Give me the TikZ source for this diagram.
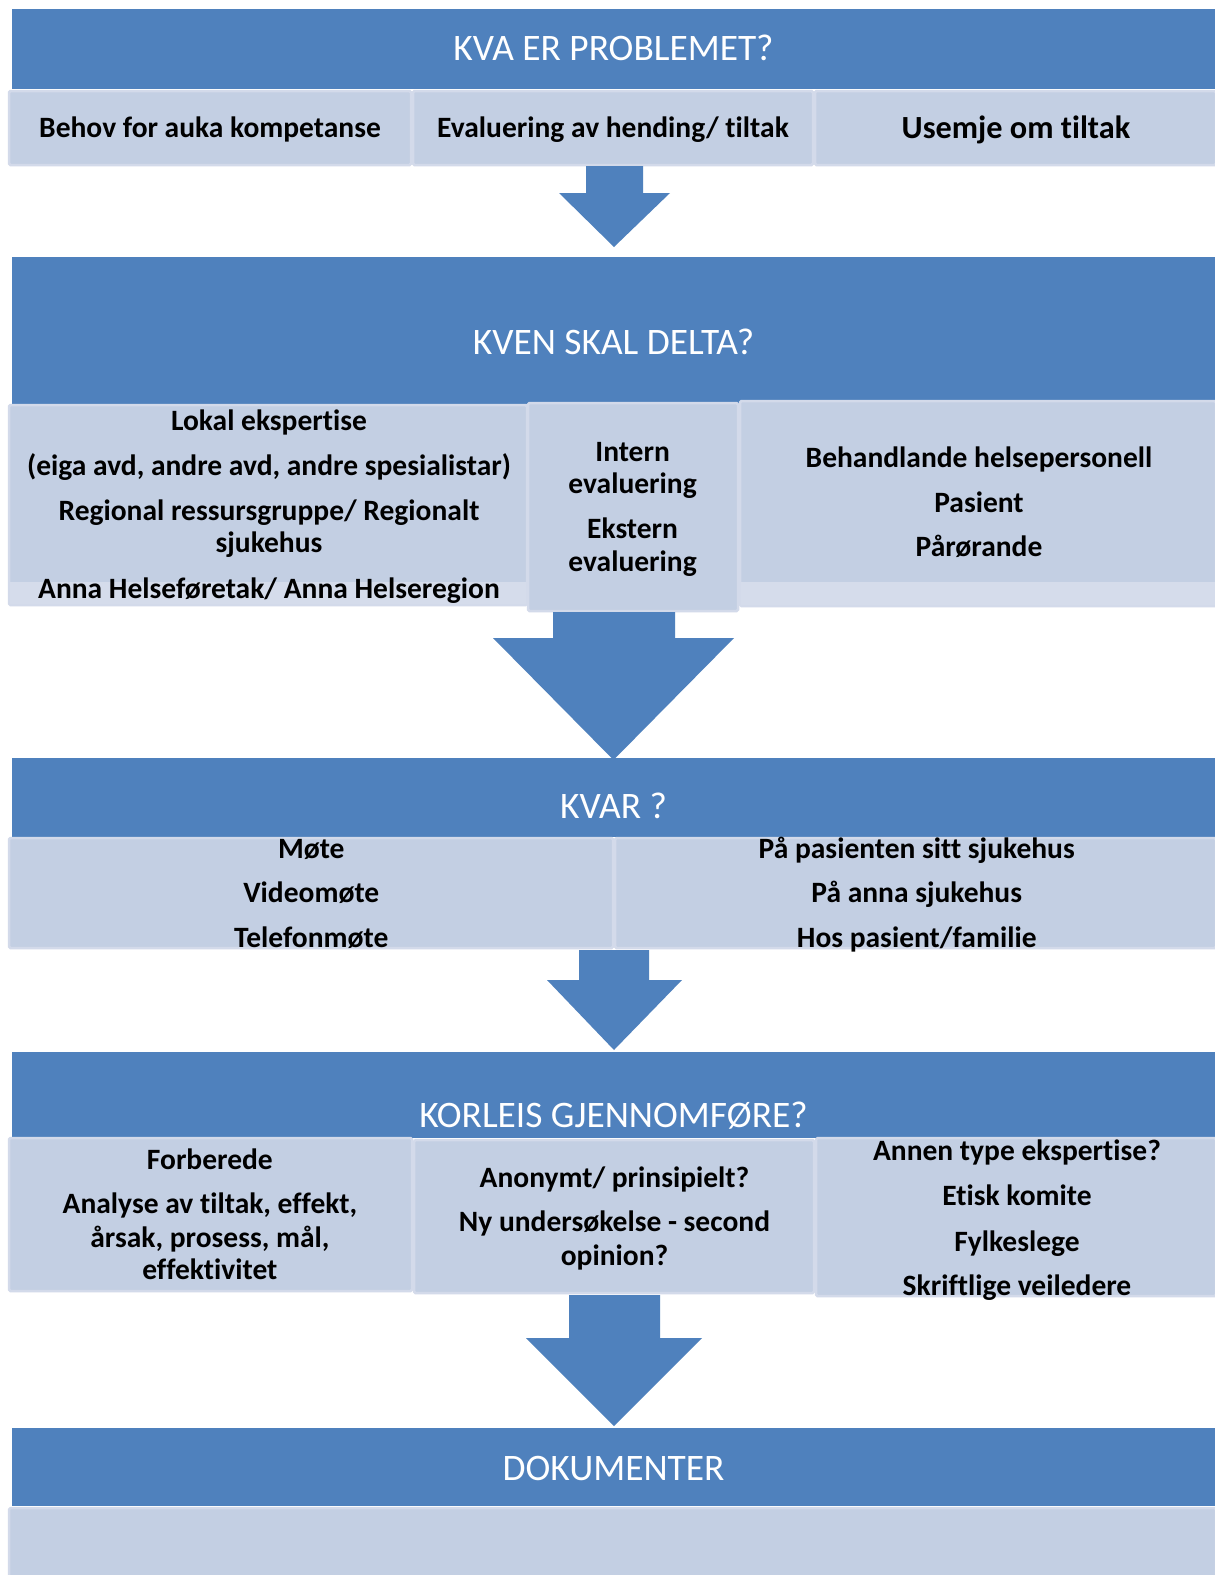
\documentclass[tikz,border=0pt]{standalone}
\usepackage{fontspec}
\setmainfont{Carlito}[Ligatures={NoCommon}]
\definecolor{hblue}{HTML}{4F81BD}
\definecolor{boxfill}{HTML}{C3CFE3}
\definecolor{boxrim}{HTML}{D3DAEA}
\definecolor{boxstrip}{HTML}{D5DCEB}
\tikzset{
  header/.style={fill=hblue, draw=none},
  itembox/.style={fill=boxfill, draw=boxrim, line width=2.5pt, rounded corners=1.5pt},
  strip/.style={fill=boxstrip, draw=none},
  arrowshape/.style={fill=hblue, draw=none},
  htext/.style={anchor=base, text=white, font=\fontsize{37.4}{44}\selectfont, inner sep=0pt},
  btext/.style={anchor=base, text=black, font=\bfseries\fontsize{29.5}{35}\selectfont, inner sep=0pt},
  bigtext/.style={anchor=base, text=black, font=\bfseries\fontsize{32.3}{38}\selectfont, inner sep=0pt}
}
\begin{document}
\begin{tikzpicture}[x=1pt,y=-1pt]
\useasboundingbox (0,0) rectangle (1215,1575);
\fill[white] (0,0) rectangle (1215,1575);

% ---------- Header 1 ----------
\fill[header] (12,9) rectangle (1215,89);
\node[htext] (h1) at (613.5,60) {KVA ER PROBLEMET?};
\draw[itembox] (9,91) rectangle (411,165);
\draw[itembox] (413,91) rectangle (813,165);
\draw[itembox] (815,91) rectangle (1216,165);
\node[btext] (a1) at (210,137) {Behov for auka kompetanse};
\node[btext] (a2) at (613,137) {Evaluering av hending/ tiltak};
\node[bigtext] (a3) at (1016,138) {Usemje om tiltak};

% arrow 1
\fill[arrowshape] (586,166) -- (643,166) -- (643,193) -- (670,193) -- (614,247) -- (559,193) -- (586,193) -- cycle;

% ---------- Header 2 ----------
\fill[header] (12,257) rectangle (1215,404);
\node[htext] (h2) at (613.5,354.5) {KVEN SKAL DELTA?};
\draw[itembox] (9,405) rectangle (527,605);
\fill[strip] (10,582) rectangle (526,604);
\draw[itembox] (740,401) rectangle (1216,606);
\fill[strip] (741,582) rectangle (1215,605);
\draw[itembox] (528,403) rectangle (738,611);

\node[btext] (b1) at (269,430.4) {Lokal ekspertise};
\node[btext] (b2) at (269,475.5) {(eiga avd, andre avd, andre spesialistar)};
\node[btext] (b3) at (269,520.8) {Regional ressursgruppe/ Regionalt};
\node[btext] (b4) at (269,552.9) {sjukehus};
\node[btext] (b5) at (269,598.1) {Anna Helseføretak/ Anna Helseregion};

\node[btext] (c1) at (632.6,461.5) {Intern};
\node[btext] (c2) at (632.6,493.7) {evaluering};
\node[btext] (c3) at (632.6,538.9) {Ekstern};
\node[btext] (c4) at (632.6,571) {evaluering};

\node[btext] (d1) at (979,467.5) {Behandlande helsepersonell};
\node[btext] (d2) at (979,512.7) {Pasient};
\node[btext] (d3) at (979,556.9) {Pårørande};

% arrow 2
\fill[arrowshape] (553,612) -- (675,612) -- (675,638) -- (734,638) -- (613.5,760) -- (493,638) -- (553,638) -- cycle;

% ---------- Header 3 ----------
\fill[header] (12,758) rectangle (1215,837);
\node[htext] (h3) at (613.5,818.6) {KVAR ?};
\draw[itembox] (9,838) rectangle (613,948);
\draw[itembox] (615,838) rectangle (1216,948);
\node[btext] (e1) at (311.3,858.3) {Møte};
\node[btext] (e2) at (311.3,902.5) {Videomøte};
\node[btext] (e3) at (311.3,947.7) {Telefonmøte};
\node[btext] (f1) at (916.7,858.3) {På pasienten sitt sjukehus};
\node[btext] (f2) at (916.7,902.5) {På anna sjukehus};
\node[btext] (f3) at (916.7,947.7) {Hos pasient/familie};

% arrow 3
\fill[arrowshape] (579,950) -- (649,950) -- (649,980) -- (682,980) -- (614,1050) -- (547,980) -- (579,980) -- cycle;

% ---------- Header 4 ----------
\fill[header] (12,1052) rectangle (1215,1138);
\node[htext] (h4) at (613.5,1127) {KORLEIS GJENNOMFØRE?};
\draw[itembox] (9,1138) rectangle (412,1291);
\draw[itembox] (414,1140) rectangle (814,1293);
\draw[itembox] (816,1138) rectangle (1216,1296);
\node[btext] (g1) at (209.9,1169.7) {Forberede};
\node[btext] (g2) at (209.9,1213.9) {Analyse av tiltak, effekt,};
\node[btext] (g3) at (209.9,1247) {årsak, prosess, mål,};
\node[btext] (g4) at (209.9,1279.2) {effektivitet};
\node[btext] (i1) at (614.5,1187.7) {Anonymt/ prinsipielt?};
\node[btext] (i2) at (614.5,1231.9) {Ny undersøkelse - second};
\node[btext] (i3) at (614.5,1265.1) {opinion?};
\node[btext] (j1) at (1017,1160.6) {Annen type ekspertise?};
\node[btext] (j2) at (1017,1205.8) {Etisk komite};
\node[btext] (j3) at (1017,1251) {Fylkeslege};
\node[btext] (j4) at (1017,1295.2) {Skriftlige veiledere};

% arrow 4
\fill[arrowshape] (569,1295) -- (660,1295) -- (660,1338) -- (702,1338) -- (614,1426) -- (526,1338) -- (569,1338) -- cycle;

% ---------- Header 5 ----------
\fill[header] (12,1428) rectangle (1215,1506);
\node[htext] (h5) at (613.5,1480.5) {DOKUMENTER};
\draw[itembox] (9,1508) rectangle (1216,1580);
\end{tikzpicture}
\end{document}
